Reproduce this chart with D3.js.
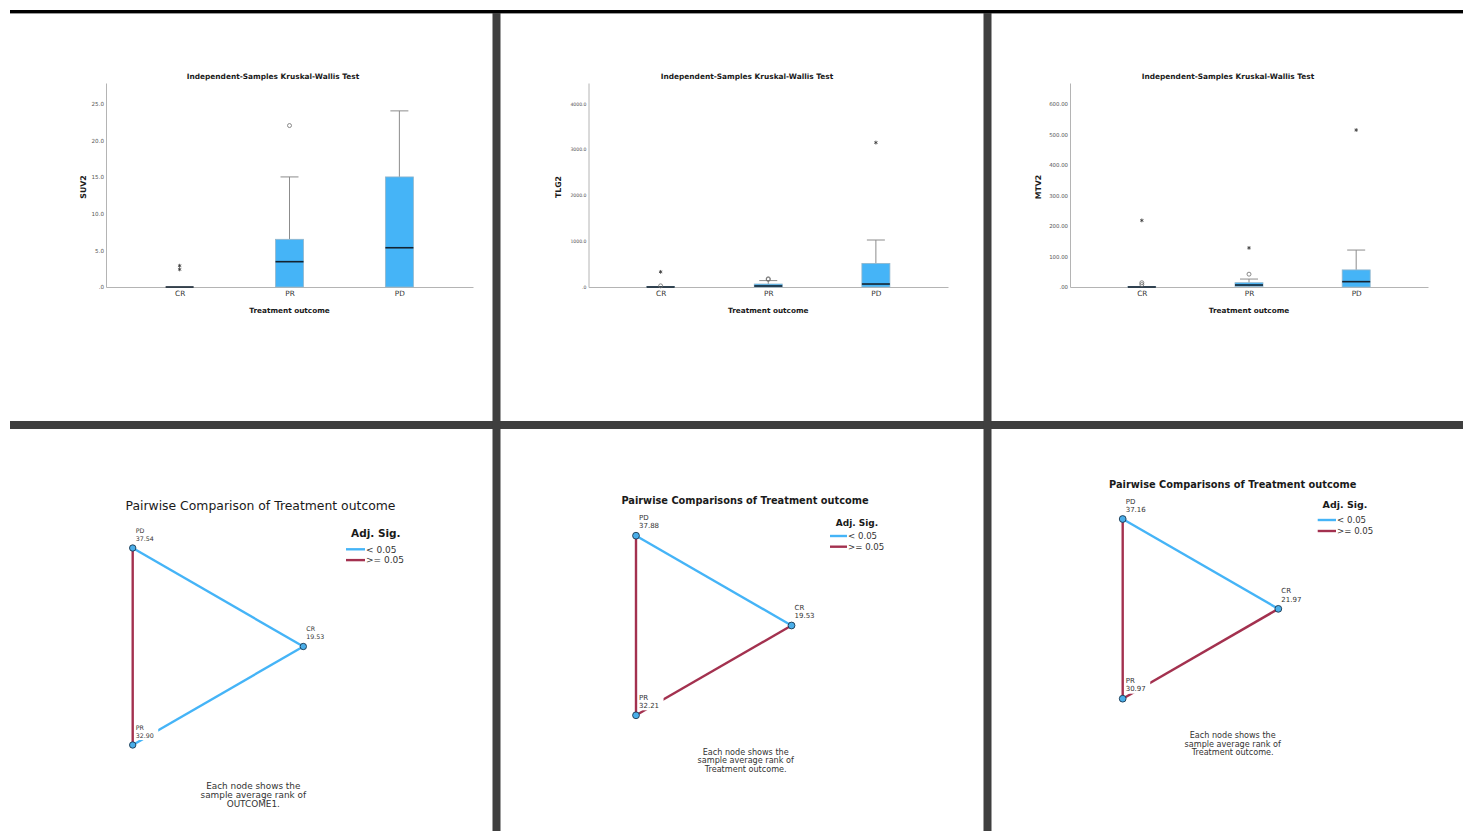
<!DOCTYPE html>
<html>
<head>
<meta charset="utf-8">
<script src="https://cdn.jsdelivr.net/npm/d3@7"></script>
<style>
  html, body { margin: 0; padding: 0; background: #fff; }
  svg { display: block; }
  text { font-family: "DejaVu Sans", sans-serif; }
</style>
</head>
<body>
<svg id="chart" width="1463" height="831"></svg>
<script>
// ---- data ----
const categories = ["CR", "PR", "PD"];

// Box summaries per category: [lower whisker, Q1, median, Q3, upper whisker]
const suvBoxes = [[0, 0, 0, 0, 0], [0, 0, 3.45, 6.5, 15.0], [0, 0, 5.35, 15.0, 24.0]];
const suvOutliers = [[], [22.0], []];          // drawn as circles
const suvExtremes = [[2.9, 2.4], [], []];      // drawn as asterisks
const suvTicks = [0, 5, 10, 15, 20, 25];

const tlgBoxes = [[0, 0, 0, 6, 6], [0, 0, 22, 65, 140], [0, 0, 65, 515, 1025]];
const tlgOutliers = [[25], [165, 180], []];
const tlgExtremes = [[330], [], [3150]];
const tlgTicks = [0, 1000, 2000, 3000, 4000];

const mtvBoxes = [[0, 0, 0, 1, 1], [0, 2, 6.5, 14, 26], [0, 0, 17.5, 56, 121]];
const mtvOutliers = [[8, 14], [42], []];
const mtvExtremes = [[218], [128], [514]];
const mtvTicks = [0, 100, 200, 300, 400, 500, 600];

// Pairwise comparison results
const groups = ["PD", "CR", "PR"];
const ranksSUV = [37.54, 19.53, 32.90];
const ranksTLG = [37.88, 19.53, 32.21];
const ranksMTV = [37.16, 21.97, 30.97];
const pairs = [["PD", "CR"], ["CR", "PR"], ["PD", "PR"]];
const sigSUV = [true, true, false];   // true: adj. sig. < 0.05
const sigTLG = [true, false, false];
const sigMTV = [true, false, false];

const legendLabels = ["< 0.05", ">= 0.05"];

// ---- drawing ----
const svg = d3.select("#chart");
const BLUE = "#45b4f7", MAROON = "#a3314f";

// panel frame
svg.append("rect").attr("x", 10).attr("y", 10).attr("width", 1453).attr("height", 3.4).attr("fill", "#000");
svg.append("rect").attr("x", 10).attr("y", 421).attr("width", 1453).attr("height", 8).attr("fill", "#3f3f3f");
[492.5, 983.5].forEach(x =>
  svg.append("rect").attr("x", x).attr("y", 13).attr("width", 8).attr("height", 818).attr("fill", "#3f3f3f"));

function drawBoxPanel(cfg) {
  const g = svg.append("g");
  const y = d3.scaleLinear().domain([0, cfg.yMax]).range([287, 83]);
  const x = d3.scalePoint().domain(categories).range([cfg.x0, cfg.x1]).padding(0.67);
  const fmt = v => d3.format("." + cfg.dec + "f")(v).replace(/^0\./, ".");

  const ya = g.append("g").attr("transform", `translate(${cfg.x0},0)`)
    .call(d3.axisLeft(y).tickValues(cfg.ticks).tickFormat(fmt).tickSize(0).tickPadding(2));
  ya.select(".domain").attr("stroke", "#b4b4b4");
  ya.selectAll("text").attr("font-size", cfg.tickFont).attr("fill", "#555")
    .style("font-family", "DejaVu Sans");

  const xa = g.append("g").attr("transform", "translate(0,287)")
    .call(d3.axisBottom(x).tickSize(0).tickPadding(4));
  xa.select(".domain").attr("stroke", "#b4b4b4");
  xa.selectAll("text").attr("font-size", 7.3).attr("fill", "#333")
    .style("font-family", "DejaVu Sans");

  g.append("text").attr("x", cfg.titleX).attr("y", 79).attr("text-anchor", "middle")
    .attr("font-size", 7.4).attr("font-weight", "bold").attr("fill", "#1a1a1a")
    .text("Independent-Samples Kruskal-Wallis Test");
  g.append("text").attr("x", (cfg.x0 + cfg.x1) / 2).attr("y", 312.5).attr("text-anchor", "middle")
    .attr("font-size", 7.3).attr("font-weight", "bold").attr("fill", "#1a1a1a")
    .text("Treatment outcome");
  g.append("text").attr("transform", `translate(${cfg.labelX},187) rotate(-90)`)
    .attr("text-anchor", "middle").attr("font-size", 7.8).attr("font-weight", "bold")
    .attr("fill", "#1a1a1a").text(cfg.label);

  const half = 14, cap = 9;
  categories.forEach((c, i) => {
    const [lo, q1, med, q3, hi] = cfg.boxes[i];
    const cx = x(c);
    if (hi > q3) {
      g.append("line").attr("x1", cx).attr("x2", cx).attr("y1", y(q3)).attr("y2", y(hi))
        .attr("stroke", "#8c8c8c").attr("stroke-width", 1);
      g.append("line").attr("x1", cx - cap).attr("x2", cx + cap).attr("y1", y(hi)).attr("y2", y(hi))
        .attr("stroke", "#8c8c8c").attr("stroke-width", 1);
    }
    if (lo < q1) {
      g.append("line").attr("x1", cx).attr("x2", cx).attr("y1", y(q1)).attr("y2", y(lo))
        .attr("stroke", "#8c8c8c").attr("stroke-width", 1);
    }
    g.append("rect").attr("x", cx - half).attr("width", half * 2)
      .attr("y", y(q3)).attr("height", Math.max(0, y(q1) - y(q3)))
      .attr("fill", BLUE).attr("stroke", "#93b6cb").attr("stroke-width", 0.8);
    g.append("line").attr("x1", cx - half).attr("x2", cx + half).attr("y1", y(med)).attr("y2", y(med))
      .attr("stroke", "#142330").attr("stroke-width", 1.6);
    cfg.outliers[i].forEach(v =>
      g.append("circle").attr("cx", cx).attr("cy", y(v)).attr("r", 2)
        .attr("fill", "none").attr("stroke", "#6d6d6d").attr("stroke-width", 0.8));
    cfg.extremes[i].forEach(v =>
      g.append("path").attr("transform", `translate(${cx},${y(v)})`)
        .attr("d", d3.symbol(d3.symbolAsterisk, 10)())
        .attr("fill", "none").attr("stroke", "#333").attr("stroke-width", 0.8));
  });
}

drawBoxPanel({ label: "SUV2", boxes: suvBoxes, outliers: suvOutliers, extremes: suvExtremes,
  ticks: suvTicks, dec: 1, yMax: 27.8, x0: 106, x1: 473, titleX: 273, tickFont: 5.6, labelX: 85.5 });
drawBoxPanel({ label: "TLG2", boxes: tlgBoxes, outliers: tlgOutliers, extremes: tlgExtremes,
  ticks: tlgTicks, dec: 1, yMax: 4450, x0: 588.5, x1: 948, titleX: 747, tickFont: 4.6, labelX: 560.5 });
drawBoxPanel({ label: "MTV2", boxes: mtvBoxes, outliers: mtvOutliers, extremes: mtvExtremes,
  ticks: mtvTicks, dec: 2, yMax: 668, x0: 1070, x1: 1428, titleX: 1228, tickFont: 5.4, labelX: 1040.5 });

function drawNetwork(cfg) {
  const g = svg.append("g");
  // unit equilateral triangle: PD top-left, PR bottom-left, CR right
  const layout = { PD: [0, 0], PR: [0, 1], CR: [Math.sqrt(3) / 2, 0.5] };
  const sx = d3.scaleLinear().domain([0, 1]).range([cfg.x, cfg.x + cfg.h]);
  const sy = d3.scaleLinear().domain([0, 1]).range([cfg.y, cfg.y + cfg.h]);
  const pos = k => [sx(layout[k][0]), sy(layout[k][1])];

  g.append("text").attr("x", cfg.titleX).attr("y", cfg.titleY).attr("text-anchor", "middle")
    .attr("font-size", cfg.titleSize).attr("font-weight", cfg.titleWeight).attr("fill", "#1a1a1a")
    .text(cfg.title);

  pairs.forEach((p, i) => {
    const a = pos(p[0]), b = pos(p[1]);
    g.append("line").attr("x1", a[0]).attr("y1", a[1]).attr("x2", b[0]).attr("y2", b[1])
      .attr("stroke", cfg.sig[i] ? BLUE : MAROON).attr("stroke-width", 2.4);
  });

  groups.forEach((k, i) => {
    const [px, py] = pos(k);
    const lg = g.append("g");
    const bg = lg.append("rect").attr("fill", "#fff");
    const t1 = lg.append("text").attr("x", px + 3).attr("y", py - 15.5)
      .attr("font-size", cfg.nodeFont).attr("fill", "#333").text(k);
    const t2 = lg.append("text").attr("x", px + 3).attr("y", py - 7.3)
      .attr("font-size", cfg.nodeFont).attr("fill", "#333").text(d3.format(".2f")(cfg.ranks[i]));
    const w = Math.max(t1.node().getComputedTextLength(), t2.node().getComputedTextLength());
    bg.attr("x", px + 2.5).attr("y", py - 15.5 - cfg.nodeFont * 0.8)
      .attr("width", w + 5).attr("height", cfg.nodeFont * 0.8 + 10.5);
  });

  groups.forEach(k => {
    const [px, py] = pos(k);
    g.append("circle").attr("cx", px).attr("cy", py).attr("r", cfg.r)
      .attr("fill", "#4aaee9").attr("stroke", "#1b3850").attr("stroke-width", 0.9);
  });

  const L = cfg.legend;
  g.append("text").attr("x", L.cx).attr("y", L.ty).attr("text-anchor", "middle")
    .attr("font-size", L.titleSize).attr("font-weight", "bold").attr("fill", "#1a1a1a").text("Adj. Sig.");
  [BLUE, MAROON].forEach((col, i) => {
    const yy = L.y0 + i * L.dy;
    g.append("line").attr("x1", L.x1).attr("x2", L.x2).attr("y1", yy).attr("y2", yy)
      .attr("stroke", col).attr("stroke-width", 2.4);
    g.append("text").attr("x", L.x2 + 1).attr("y", yy + L.size * 0.36)
      .attr("font-size", L.size).attr("fill", "#333").text(legendLabels[i]);
  });

  cfg.note.forEach((s, i) =>
    g.append("text").attr("x", cfg.noteX).attr("y", cfg.noteY + i * cfg.noteDy)
      .attr("text-anchor", "middle").attr("font-size", cfg.noteSize).attr("fill", "#333").text(s));
}

drawNetwork({ x: 132.7, y: 548, h: 197, ranks: ranksSUV, sig: sigSUV, r: 3.2, nodeFont: 6.3,
  title: "Pairwise Comparison of Treatment outcome", titleX: 260.5, titleY: 509.5, titleSize: 12.4, titleWeight: "normal",
  legend: { cx: 375.8, ty: 537, titleSize: 10.5, x1: 346, x2: 365, y0: 549.3, dy: 10.8, size: 9 },
  note: ["Each node shows the", "sample average rank of", "OUTCOME1."],
  noteX: 253.3, noteY: 789.2, noteDy: 9, noteSize: 8.9 });

drawNetwork({ x: 636, y: 535.7, h: 179.6, ranks: ranksTLG, sig: sigTLG, r: 3.4, nodeFont: 7,
  title: "Pairwise Comparisons of Treatment outcome", titleX: 745, titleY: 503.5, titleSize: 9.8, titleWeight: "bold",
  legend: { cx: 857, ty: 525.5, titleSize: 9, x1: 830, x2: 847, y0: 536, dy: 10.7, size: 8.6 },
  note: ["Each node shows the", "sample average rank of", "Treatment outcome."],
  noteX: 745.7, noteY: 755, noteDy: 8.3, noteSize: 8.1 });

drawNetwork({ x: 1122.7, y: 519, h: 179.7, ranks: ranksMTV, sig: sigMTV, r: 3.4, nodeFont: 7,
  title: "Pairwise Comparisons of Treatment outcome", titleX: 1232.7, titleY: 487.5, titleSize: 9.8, titleWeight: "bold",
  legend: { cx: 1345, ty: 508.3, titleSize: 9.5, x1: 1317.7, x2: 1336, y0: 520, dy: 11, size: 8.6 },
  note: ["Each node shows the", "sample average rank of", "Treatment outcome."],
  noteX: 1232.7, noteY: 738.3, noteDy: 8.3, noteSize: 8.1 });
</script>
</body>
</html>
